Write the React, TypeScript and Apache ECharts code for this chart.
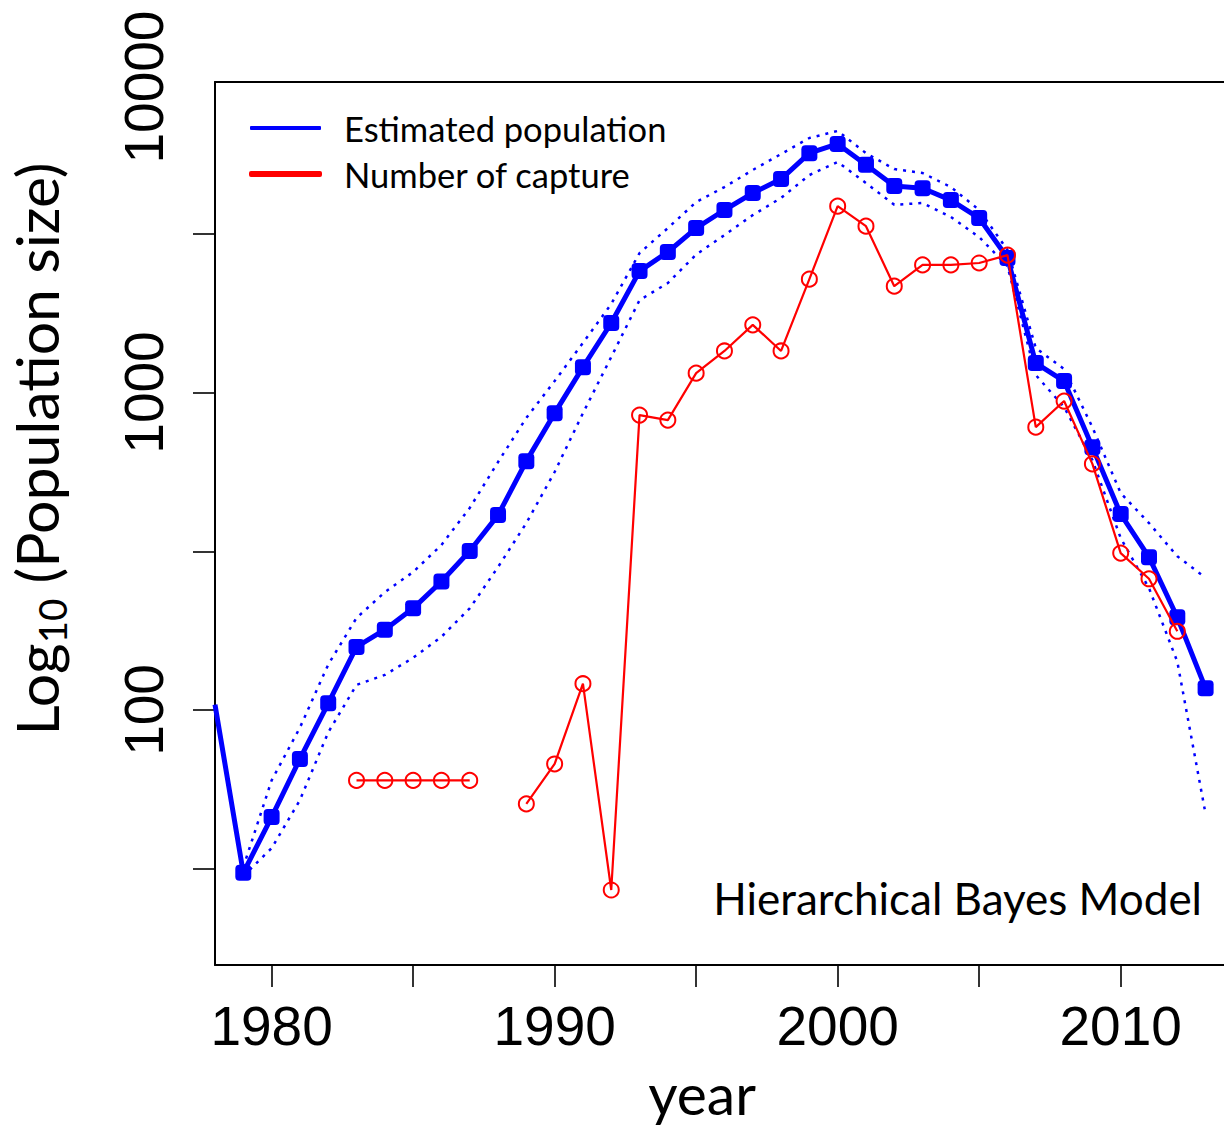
import React, { useEffect, useRef } from "react";
import * as echarts from "echarts";

// Years covered by the model (1978–2013)
const years: number[] = [
  1978, 1979, 1980, 1981, 1982, 1983, 1984, 1985, 1986, 1987, 1988, 1989,
  1990, 1991, 1992, 1993, 1994, 1995, 1996, 1997, 1998, 1999, 2000, 2001,
  2002, 2003, 2004, 2005, 2006, 2007, 2008, 2009, 2010, 2011, 2012, 2013,
];

// Estimated population (posterior median)
const estimated: (number | null)[] = [
  104, 30.7, 46.0, 70.1, 105, 158, 179, 209, 254, 317, 411, 608,
  861, 1202, 1656, 2413, 2772, 3296, 3758, 4248, 4703, 5677, 6068, 5215,
  4470, 4402, 4038, 3545, 2655, 1238, 1087, 673, 414, 303, 196, 117,
];

// Upper credible bound (dotted)
const upper: (number | null)[] = [
  null, 32, 60, 88, 139, 195, 235, 272, 331, 433, 604, 832,
  1087, 1433, 1901, 2750, 3296, 3980, 4439, 5023, 5640, 6336, 6668, 5677,
  5058, 4915, 4439, 3758, 2812, 1380, 1186, 778, 482, 388, 305, 261,
];

// Lower credible bound (dotted)
const lower: (number | null)[] = [
  null, 30, 36.7, 52, 85, 120, 129, 146, 170, 209, 282, 388,
  562, 861, 1294, 1954, 2213, 2720, 3134, 3622, 4102, 4841, 5324, 4570,
  3902, 3955, 3573, 3088, 2500, 1135, 900, 613, 348, 242, 142, 47,
];

// Number of captures
const captures: (number | null)[] = [
  null, null, null, null, null, 60, 60, 60, 60, 60, null, 50.6,
  67.6, 121, 27.1, 849, 819, 1151, 1352, 1634, 1352, 2276, 3864, 3342,
  2163, 2523, 2523, 2559, 2710, 778, 940, 596, 312, 259, 177, null,
];

const markerStartYear = 1979;

// Axis ticks / labels
const xTickValues = [1980, 1985, 1990, 1995, 2000, 2005, 2010];
const xLabelValues = [1980, 1990, 2000, 2010];
const yTickValues = [10 ** 1.5, 100, 10 ** 2.5, 1000, 10 ** 3.5]; // half-decade ticks
const yLabelValues = [100, 1000, 10000];
const yLabelAt = [100, 1000, 9170]; // 10000 label printed slightly inside the frame
const xMin = 1978;
const xMax = 2013.65;
const yMin = 15.73;
const yMax = 9510;

const legendNames = ["Estimated population", "Number of capture"];
const annotation = "Hierarchical Bayes Model";

const lg = (v: number) => Math.log10(v);
const toPairs = (arr: (number | null)[]) =>
  years.map((yr, i) => [yr, arr[i] == null ? "-" : lg(arr[i] as number)]);

export default function App() {
  const ref = useRef<HTMLDivElement>(null);
  useEffect(() => {
    if (!ref.current) return;
    const chart = echarts.init(ref.current, undefined, { renderer: "svg" });
    const labelFont = "Liberation Sans, Arial, sans-serif";
    const textFont = "Lato, 'Open Sans', sans-serif";

    const estData = years.map((yr, i) => {
      const v = estimated[i];
      const item: any = { value: [yr, v == null ? "-" : lg(v)] };
      if (yr < markerStartYear) item.symbol = "none";
      return item;
    });

    const option: any = {
      animation: false,
      backgroundColor: "#ffffff",
      grid: { left: 215, right: 0, top: 82, bottom: 164, containLabel: false },
      legend: {
        orient: "vertical",
        left: 244,
        top: 103,
        itemWidth: 71,
        itemHeight: 4,
        itemGap: 6,
        icon: "roundRect",
        selectedMode: false,
        data: [
          { name: legendNames[0], itemStyle: { color: "#0000ff" } },
          { name: legendNames[1], itemStyle: { color: "#ff0000" } },
        ],
        textStyle: {
          fontFamily: textFont,
          fontSize: 34.5,
          lineHeight: 40,
          color: "#000",
          padding: [0, 0, 0, 18],
        },
      },
      xAxis: [
        {
          type: "value",
          min: xMin,
          max: xMax,
          position: "bottom",
          splitLine: { show: false },
          axisLine: { show: true, onZero: false, lineStyle: { color: "#000", width: 2 } },
          axisTick: {
            show: true,
            inside: false,
            length: 22,
            customValues: xTickValues,
            lineStyle: { color: "#000", width: 1.6 },
          },
          axisLabel: {
            show: true,
            customValues: xLabelValues,
            margin: 33,
            fontSize: 55,
            fontFamily: labelFont,
            color: "#000",
            formatter: (v: number) => String(Math.round(v)),
          },
        },
        {
          type: "value",
          min: xMin,
          max: xMax,
          position: "top",
          splitLine: { show: false },
          axisLine: { show: true, onZero: false, lineStyle: { color: "#000", width: 2 } },
          axisTick: { show: false },
          axisLabel: { show: false },
        },
      ],
      yAxis: [
        {
          type: "value",
          min: lg(yMin),
          max: lg(yMax),
          position: "left",
          splitLine: { show: false },
          axisLine: { show: true, onZero: false, lineStyle: { color: "#000", width: 2 } },
          axisTick: {
            show: true,
            inside: false,
            length: 22,
            customValues: yTickValues.map(lg),
            lineStyle: { color: "#000", width: 1.6 },
          },
          axisLabel: {
            show: true,
            customValues: yLabelAt.map(lg),
            rotate: 90,
            margin: 44,
            fontSize: 55,
            fontFamily: labelFont,
            color: "#000",
            formatter: (v: number) => {
              let best = 0;
              yLabelAt.forEach((p, i) => {
                if (Math.abs(lg(p) - v) < Math.abs(lg(yLabelAt[best]) - v)) best = i;
              });
              return String(yLabelValues[best]);
            },
          },
        },
      ],
      series: [
        {
          name: "upper",
          type: "line",
          data: toPairs(upper),
          showSymbol: false,
          symbol: "none",
          silent: true,
          lineStyle: { color: "#0000ff", width: 2.5, type: [3, 6] },
          z: 2,
        },
        {
          name: "lower",
          type: "line",
          data: toPairs(lower),
          showSymbol: false,
          symbol: "none",
          silent: true,
          lineStyle: { color: "#0000ff", width: 2.5, type: [3, 6] },
          z: 2,
        },
        {
          name: legendNames[0],
          type: "line",
          data: estData,
          symbol: "roundRect",
          symbolSize: 16,
          color: "#0000ff",
          itemStyle: { color: "#0000ff" },
          lineStyle: { color: "#0000ff", width: 5 },
          z: 3,
        },
        {
          name: legendNames[1],
          type: "line",
          data: toPairs(captures),
          symbol: "circle",
          symbolSize: 15,
          color: "#ff0000",
          itemStyle: { color: "rgba(255,255,255,0)", borderColor: "#ff0000", borderWidth: 2 },
          lineStyle: { color: "#ff0000", width: 2.2 },
          z: 4,
        },
      ],
      graphic: [
        {
          type: "text",
          x: 36,
          y: 449,
          rotation: Math.PI / 2,
          style: {
            text: "{a|Log}{s|10}{a| (Population size)}",
            align: "center",
            verticalAlign: "middle",
            fill: "#000",
            rich: {
              a: { fontFamily: textFont, fontSize: 59, lineHeight: 70, verticalAlign: "middle", fill: "#000" },
              s: { fontFamily: textFont, fontSize: 38.5, lineHeight: 70, verticalAlign: "bottom", fill: "#000" },
            },
          },
        },
        {
          type: "text",
          x: 702,
          y: 1093,
          style: {
            text: "year",
            align: "center",
            verticalAlign: "middle",
            fontFamily: textFont,
            fontSize: 57,
            lineHeight: 50,
            fill: "#000",
          },
        },
        {
          type: "text",
          x: 1202,
          y: 898,
          style: {
            text: annotation,
            align: "right",
            verticalAlign: "middle",
            fontFamily: textFont,
            fontSize: 44,
            fill: "#000",
          },
        },
      ],
    };
    chart.setOption(option);
    return () => chart.dispose();
  }, []);

  return (
    <div
      ref={ref}
      style={{ position: "fixed", left: 0, top: 0, width: 1224, height: 1129, background: "#fff" }}
    />
  );
}
